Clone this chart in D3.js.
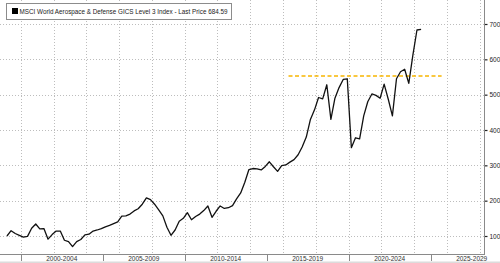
<!DOCTYPE html>
<html><head><meta charset="utf-8">
<script src="https://cdn.jsdelivr.net/npm/d3@7"></script>
<style>
html,body{margin:0;padding:0;background:#fff;}
svg{display:block;}
</style></head>
<body>
<svg id="c" width="500" height="263"></svg>
<script>
const dates = [
 "1999-03","1999-06","1999-09","1999-12",
 "2000-03","2000-06","2000-09","2000-12",
 "2001-03","2001-06","2001-09","2001-12",
 "2002-03","2002-06","2002-09","2002-12",
 "2003-03","2003-06","2003-09","2003-12",
 "2004-03","2004-06","2004-09","2004-12",
 "2005-03","2005-06","2005-09","2005-12",
 "2006-03","2006-06","2006-09","2006-12",
 "2007-03","2007-06","2007-09","2007-12",
 "2008-03","2008-06","2008-09","2008-12",
 "2009-03","2009-06","2009-09","2009-12",
 "2010-03","2010-06","2010-09","2010-12",
 "2011-03","2011-06","2011-09","2011-12",
 "2012-03","2012-06","2012-09","2012-12",
 "2013-03","2013-06","2013-09","2013-12",
 "2014-03","2014-06","2014-09","2014-12",
 "2015-03","2015-06","2015-09","2015-12",
 "2016-03","2016-06","2016-09","2016-12",
 "2017-03","2017-06","2017-09","2017-12",
 "2018-03","2018-06","2018-09","2018-12",
 "2019-03","2019-06","2019-09","2019-12",
 "2020-03","2020-06","2020-09","2020-12",
 "2021-03","2021-06","2021-09","2021-12",
 "2022-03","2022-06","2022-09","2022-12",
 "2023-03","2023-06","2023-09","2023-12",
 "2024-03","2024-06"
];
const values = [
 100,115,107,102,
 97,99,122,134,
 120,121,91,104,
 114,114,88,84,
 70,84,90,103,
 105,114,117,121,
 126,130,135,140,
 156,157,162,171,
 177,190,208,203,
 190,174,157,125,
 102,117,142,150,
 166,146,155,162,
 172,185,153,170,
 185,178,180,186,
 205,222,252,288,
 291,290,287,297,
 310,296,283,299,
 301,309,316,330,
 352,380,430,457,
 492,488,528,430,
 490,520,543,545,
 350,378,375,440,
 480,502,498,490,
 530,487,440,545,
 565,572,532,612,
 683,685
];
const seriesName = "MSCI World Aerospace & Defense GICS Level 3 Index - Last Price 684.59";
const yTicks = [100,200,300,400,500,600,700];
const periodStarts = ["2000","2005","2010","2015","2020","2025","2030"];
const periodLabels = ["2000-2004","2005-2009","2010-2014","2015-2019","2020-2024","2025-2029"];
const gridYears = ["1998","2000","2002","2004","2006","2008","2010","2012","2014","2016","2018","2020","2022","2024","2026","2028"];
const levelValue = 553;
const levelRange = ["2016-05","2025-09"];

const svg = d3.select("#c");
const W = 500, H = 263;
const plotRight = 484, plotBottom = 254;
const pm = d3.timeParse("%Y-%m"), py = d3.timeParse("%Y");

const x = d3.scaleTime()
  .domain([py("2000"), py("2025")])
  .range([20.7, 430.7]);
const y = d3.scaleLinear()
  .domain([100, 700])
  .range([236, 24]);

// clip
svg.append("defs").append("clipPath").attr("id","clip")
  .append("rect").attr("x",0).attr("y",0).attr("width",plotRight).attr("height",plotBottom);

const grid = svg.append("g").attr("clip-path","url(#clip)");
// horizontal grid
grid.selectAll("line.h").data(yTicks).enter().append("line")
  .attr("x1",0).attr("x2",plotRight)
  .attr("y1",d=>Math.round(y(d))+0.5).attr("y2",d=>Math.round(y(d))+0.5)
  .attr("stroke","#bdbdbd").attr("stroke-width",1).attr("stroke-dasharray","1,2");
// vertical grid
grid.selectAll("line.v").data(gridYears).enter().append("line")
  .attr("x1",d=>Math.round(x(py(d)))+0.5).attr("x2",d=>Math.round(x(py(d)))+0.5)
  .attr("y1",0).attr("y2",plotBottom)
  .attr("stroke","#bdbdbd").attr("stroke-width",1).attr("stroke-dasharray","1,2");

// level dashed line
svg.append("line")
  .attr("x1",x(pm(levelRange[0]))).attr("x2",x(pm(levelRange[1])))
  .attr("y1",y(levelValue)).attr("y2",y(levelValue))
  .attr("stroke","#f7b500").attr("stroke-width",1.6).attr("stroke-dasharray","4,2.5");

// series line
const data = dates.map((d,i)=>({d:pm(d), v:values[i]}));
svg.append("path").datum(data)
  .attr("clip-path","url(#clip)")
  .attr("fill","none").attr("stroke","#111").attr("stroke-width",1.3)
  .attr("stroke-linejoin","round")
  .attr("d", d3.line().x(p=>x(p.d)).y(p=>y(p.v)));

// right axis
const yAxis = d3.axisRight(y).tickValues(yTicks).tickSize(3).tickPadding(2).tickFormat(d3.format("d"));
const ga = svg.append("g").attr("transform",`translate(${plotRight+0.5},0)`).call(yAxis);
ga.select(".domain").remove();
ga.selectAll(".tick line").attr("stroke","#222").attr("stroke-width",1.2);
ga.selectAll(".tick text").attr("font-family","'Liberation Sans', Arial, sans-serif")
  .attr("font-size","6.5px").attr("fill","#222");
svg.append("line").attr("x1",plotRight+0.5).attr("x2",plotRight+0.5)
  .attr("y1",0).attr("y2",plotBottom).attr("stroke","#8a8a8a").attr("stroke-width",1);

// bottom axis
svg.append("line").attr("x1",0).attr("x2",plotRight+1)
  .attr("y1",plotBottom+0.5).attr("y2",plotBottom+0.5)
  .attr("stroke","#8a8a8a").attr("stroke-width",1);
const gb = svg.append("g");
gb.selectAll("line.sep").data(periodStarts).enter().append("line")
  .attr("x1",d=>Math.round(x(py(d)))+0.5).attr("x2",d=>Math.round(x(py(d)))+0.5)
  .attr("y1",plotBottom).attr("y2",plotBottom+7)
  .attr("stroke","#8a8a8a").attr("stroke-width",1);
gb.selectAll("text").data(periodLabels).enter().append("text")
  .attr("x",(d,i)=>(x(py(periodStarts[i]))+x(py(periodStarts[i+1])))/2)
  .attr("y",260.5)
  .attr("text-anchor","middle")
  .attr("font-family","'Liberation Sans', Arial, sans-serif")
  .attr("font-size","6.5px").attr("fill","#333")
  .text(d=>d);
svg.append("rect").attr("x",0).attr("y",261.5).attr("width",W).attr("height",1.5).attr("fill","#dcdcdc");

// legend
const lg = svg.append("g");
lg.append("rect").attr("x",6.5).attr("y",3.5).attr("width",225).attr("height",16)
  .attr("fill","#fff").attr("stroke","#8c8c8c").attr("stroke-width",1);
lg.append("rect").attr("x",12).attr("y",8).attr("width",6).attr("height",6).attr("fill","#000");
lg.append("text").attr("x",19.5).attr("y",14.3)
  .attr("font-family","'Liberation Sans', Arial, sans-serif")
  .attr("font-size","7px").attr("fill","#222")
  .attr("textLength",208).attr("lengthAdjust","spacingAndGlyphs")
  .text(seriesName);
</script>
</body></html>
